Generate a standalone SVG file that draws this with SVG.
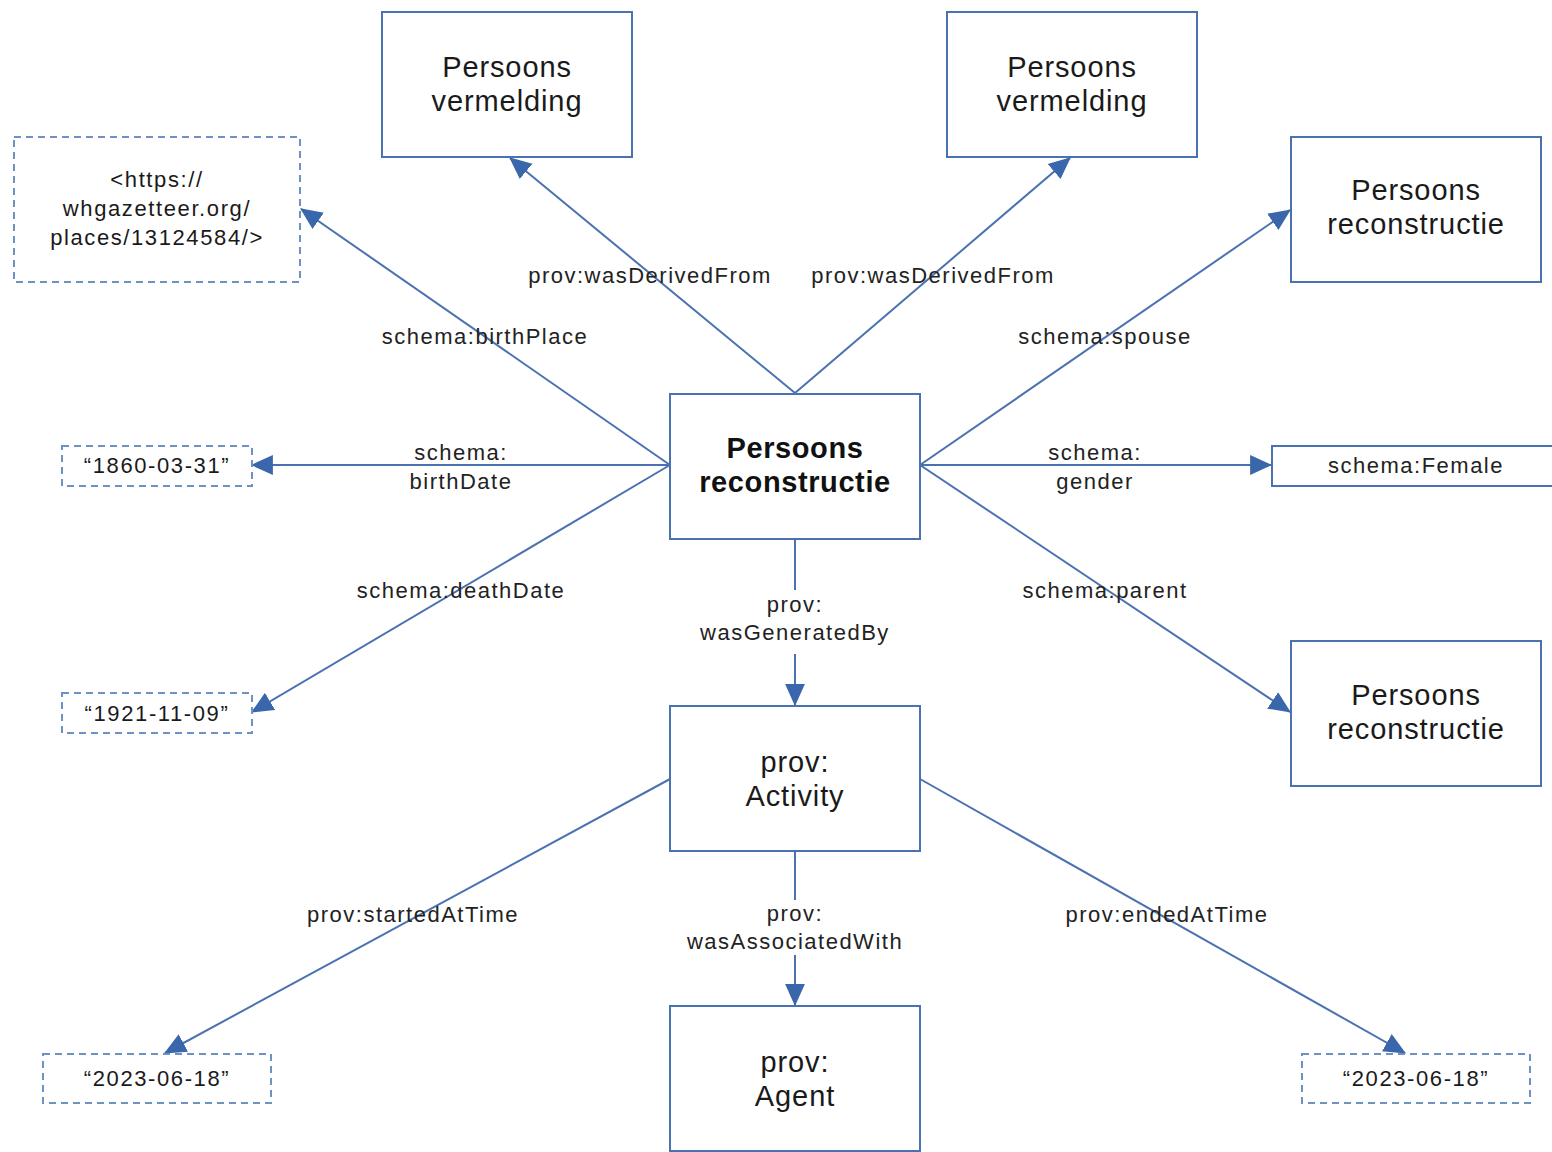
<svg xmlns="http://www.w3.org/2000/svg" width="1552" height="1152" viewBox="0 0 1552 1152">
<style>
.box{fill:#fff;stroke:#4a72b0;stroke-width:2}
.dash{fill:#fff;stroke:#6f92c4;stroke-width:2;stroke-dasharray:7,5}
.nt{font-family:"Liberation Sans",Arial,sans-serif;font-size:29px;fill:#1a1a1a;text-anchor:middle;letter-spacing:0.9px}
.bt{font-family:"Liberation Sans",Arial,sans-serif;font-size:29px;font-weight:bold;fill:#111;text-anchor:middle;letter-spacing:0.6px}
.st{font-family:"Liberation Sans",Arial,sans-serif;font-size:22px;fill:#1a1a1a;text-anchor:middle;letter-spacing:1.6px}
.lt{font-family:"Liberation Sans",Arial,sans-serif;font-size:22px;fill:#222;text-anchor:middle;letter-spacing:1.5px}
.ln{fill:none;stroke:#4a72b0;stroke-width:2}
</style>
<defs>
<marker id="ah" markerUnits="userSpaceOnUse" markerWidth="22" markerHeight="22" viewBox="0 0 20 20" refX="19" refY="10" orient="auto">
<path d="M0,1 L20,10 L0,19 Z" fill="#3a66ab"/>
</marker>
</defs>
<g id="connectors">
<line class="ln" x1="795" y1="393" x2="510" y2="158" marker-end="url(#ah)"/>
<line class="ln" x1="795" y1="393" x2="1070" y2="158" marker-end="url(#ah)"/>
<line class="ln" x1="670" y1="465" x2="301" y2="209" marker-end="url(#ah)"/>
<line class="ln" x1="670" y1="465" x2="252" y2="465" marker-end="url(#ah)"/>
<line class="ln" x1="670" y1="465" x2="252" y2="712" marker-end="url(#ah)"/>
<line class="ln" x1="920" y1="465" x2="1290" y2="210" marker-end="url(#ah)"/>
<line class="ln" x1="920" y1="465" x2="1271" y2="465" marker-end="url(#ah)"/>
<line class="ln" x1="920" y1="465" x2="1290" y2="712" marker-end="url(#ah)"/>
<line class="ln" x1="795" y1="539" x2="795" y2="590"/>
<line class="ln" x1="795" y1="654" x2="795" y2="705" marker-end="url(#ah)"/>
<line class="ln" x1="670" y1="779" x2="165" y2="1053" marker-end="url(#ah)"/>
<line class="ln" x1="920" y1="779" x2="1405" y2="1053" marker-end="url(#ah)"/>
<line class="ln" x1="795" y1="851" x2="795" y2="900"/>
<line class="ln" x1="795" y1="955" x2="795" y2="1005" marker-end="url(#ah)"/>
<text class="lt" x="650" y="283">prov:wasDerivedFrom</text>
<text class="lt" x="933" y="283">prov:wasDerivedFrom</text>
<text class="lt" x="485" y="344">schema:birthPlace</text>
<text class="lt" x="1105" y="344">schema:spouse</text>
<text class="lt" x="461" y="460">schema:</text>
<text class="lt" x="461" y="489">birthDate</text>
<text class="lt" x="1095" y="460">schema:</text>
<text class="lt" x="1095" y="489">gender</text>
<text class="lt" x="461" y="598">schema:deathDate</text>
<text class="lt" x="1105" y="598">schema:parent</text>
<text class="lt" x="795" y="612">prov:</text>
<text class="lt" x="795" y="640">wasGeneratedBy</text>
<text class="lt" x="413" y="922">prov:startedAtTime</text>
<text class="lt" x="1167" y="922">prov:endedAtTime</text>
<text class="lt" x="795" y="921">prov:</text>
<text class="lt" x="795" y="949">wasAssociatedWith</text>
</g>
<g id="pv1"><rect class="box" x="382" y="12" width="250" height="145"/><text class="nt" x="507" y="77">Persoons</text><text class="nt" x="507" y="111">vermelding</text></g>
<g id="pv2"><rect class="box" x="947" y="12" width="250" height="145"/><text class="nt" x="1072" y="77">Persoons</text><text class="nt" x="1072" y="111">vermelding</text></g>
<g id="url"><rect class="dash" x="14" y="137" width="286" height="145"/><text class="st" x="157" y="187">&lt;https://</text><text class="st" x="157" y="216">whgazetteer.org/</text><text class="st" x="157" y="245">places/13124584/&gt;</text></g>
<g id="pr1"><rect class="box" x="1291" y="137" width="250" height="145"/><text class="nt" x="1416" y="200">Persoons</text><text class="nt" x="1416" y="234">reconstructie</text></g>
<g id="center"><rect class="box" x="670" y="394" width="250" height="145"/><text class="bt" x="795" y="458">Persoons</text><text class="bt" x="795" y="492">reconstructie</text></g>
<g id="birth"><rect class="dash" x="62" y="446" width="190" height="40"/><text class="st" x="157" y="473">“1860-03-31”</text></g>
<g id="female"><rect class="box" x="1272" y="446" width="290" height="40"/><text class="lt" x="1416" y="473">schema:Female</text></g>
<g id="death"><rect class="dash" x="62" y="693" width="190" height="40"/><text class="st" x="157" y="721">“1921-11-09”</text></g>
<g id="pr2"><rect class="box" x="1291" y="641" width="250" height="145"/><text class="nt" x="1416" y="705">Persoons</text><text class="nt" x="1416" y="739">reconstructie</text></g>
<g id="activity"><rect class="box" x="670" y="706" width="250" height="145"/><text class="nt" x="795" y="772">prov:</text><text class="nt" x="795" y="806">Activity</text></g>
<g id="agent"><rect class="box" x="670" y="1006" width="250" height="145"/><text class="nt" x="795" y="1072">prov:</text><text class="nt" x="795" y="1106">Agent</text></g>
<g id="start"><rect class="dash" x="43" y="1054" width="228" height="49"/><text class="st" x="157" y="1086">“2023-06-18”</text></g>
<g id="end"><rect class="dash" x="1302" y="1054" width="228" height="49"/><text class="st" x="1416" y="1086">“2023-06-18”</text></g>
</svg>
